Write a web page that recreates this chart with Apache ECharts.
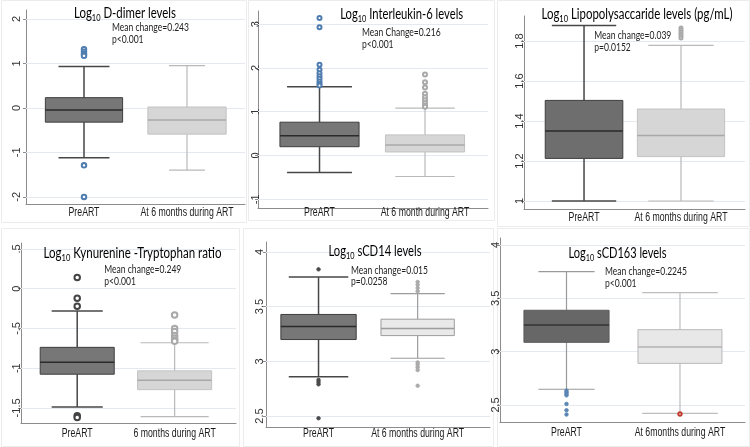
<!DOCTYPE html>
<html><head><meta charset="utf-8">
<script src="https://cdn.jsdelivr.net/npm/echarts@6/dist/echarts.min.js"></script>
<style>html,body{margin:0;padding:0;background:#fff}#c{width:750px;height:447px}</style>
</head><body><div id="c"></div>
<script>
// ---------------- data ----------------
// box stats: [min whisker, Q1, median, Q3, max whisker]
const dDimerPre = [-1.12, -0.32, -0.05, 0.23, 0.93];
const dDimerPost = [-1.40, -0.59, -0.27, 0.02, 0.95];
const dDimerPreOut = [1.32, 1.26, 1.21, 1.17, -1.29, -2.0];
const dDimerPostOut = [];
const dDimerTicks = [-2, -1, 0, 1, 2];

const il6Pre = [-0.39, 0.20, 0.45, 0.76, 1.57];
const il6Post = [-0.48, 0.08, 0.24, 0.47, 1.08];
const il6PreOut = [3.14, 2.93, 2.07, 1.96, 1.88, 1.81, 1.75, 1.69, 1.64, 1.60];
const il6PostOut = [1.85, 1.67, 1.55, 1.41, 1.33, 1.26, 1.20, 1.14, 1.11];
const il6Ticks = [-1, 0, 1, 2, 3];

const lpsPre = [1.0, 1.213, 1.35, 1.503, 1.877];
const lpsPost = [1.0, 1.222, 1.327, 1.46, 1.778];
const lpsPreOut = [];
const lpsPostOut = [1.865, 1.855, 1.845, 1.835, 1.825, 1.815];
const lpsTicks = [1, 1.2, 1.4, 1.6, 1.8];

const ktPre = [-1.49, -1.076, -0.924, -0.738, -0.28];
const ktPost = [-1.61, -1.27, -1.152, -1.034, -0.68];
const ktPreOut = [0.14, -0.12, -0.22, -1.60, -1.62];
const ktPostOut = [-0.33, -0.50, -0.54, -0.59, -0.62, -0.645, -0.66];
const ktTicks = [-1.5, -1, -0.5, 0, 0.5];

const cd14Pre = [2.859, 3.199, 3.318, 3.428, 3.77];
const cd14Post = [3.028, 3.235, 3.30, 3.385, 3.618];
const cd14PreOut = [3.84, 2.83, 2.81, 2.79, 2.48];
const cd14PostOut = [3.725, 3.70, 3.67, 3.64, 2.99, 2.97, 2.945, 2.92, 2.777];
const cd14Ticks = [2.5, 3, 3.5, 4];

const cd163Pre = [2.647, 3.0875, 3.25, 3.388, 3.75];
const cd163Post = [2.42, 2.89, 3.044, 3.206, 3.553];
const cd163PreOut = [2.635, 2.62, 2.605, 2.59, 2.51, 2.45, 2.41];
const cd163PostOut = [2.415];
const cd163Ticks = [2.5, 3, 3.5, 4];

const labelsA = ['PreART', 'At 6 months during ART'];
const labelsB = ['PreART', 'At 6 month during ART'];
const labelsC = ['PreART', '6 months during ART'];
const labelsD = ['PreART', 'At 6months during ART'];

const titles = ['D-dimer levels', 'Interleukin-6 levels', 'Lipopolysaccaride levels (pg/mL)',
  'Kynurenine -Tryptophan ratio', 'sCD14 levels', 'sCD163 levels'];
const notes = [['Mean change=0.243', 'p<0.001'], ['Mean Change=0.216', 'p<0.001'],
  ['Mean change=0.039', 'p=0.0152'], ['Mean change=0.249', 'p<0.001'],
  ['Mean change=0.015', 'p=0.0258'], ['Mean change=0.2245', 'p<0.001']];

// ---------------- styles / layout ----------------
const DARK = {fill: '#777777', border: '#3e3e3e', median: '#2a2a2a', line: '#474747', lw: 1.5};
const LIGHT = {fill: '#d6d6d6', border: '#c2c2c2', median: '#a8a8a8', line: '#b9b9b9', lw: 1.2};
const SANS = "'Liberation Sans',Arial,sans-serif";
const HUMAN = "Lato,'Open Sans',sans-serif";

// t: [title centre x, title cap centre y, title width]; n: [note left, note block middle y]; xm: label offset
const panels = [
  {pre: dDimerPre, post: dDimerPost, preOut: dDimerPreOut, postOut: dDimerPostOut, ticks: dDimerTicks, labels: labelsA,
   grid: {left: 26, top: 10, width: 219, height: 194}, y: [-2.16, 2.2], x: [0.437, 2.563], lm: 3.5, xm: 9,
   bw: [0.75, 0.76], cap: [0.66, 0.46], st: [DARK, LIGHT],
   o: [{sym: 'emptyCircle', c: '#4f7db0', s: 4.5}, {sym: 'emptyCircle', c: '#aaa', s: 4.5}],
   t: [125, 12.3, 102], n: [112, 33.7]},
  {pre: il6Pre, post: il6Post, preOut: il6PreOut, postOut: il6PostOut, ticks: il6Ticks, labels: labelsB,
   grid: {left: 258, top: 11, width: 230, height: 197}, y: [-1.2, 3.3], x: [0.417, 2.597], lm: -3, xm: 5,
   bw: [0.75, 0.75], cap: [0.82, 0.75], st: [DARK, LIGHT],
   o: [{sym: 'emptyCircle', c: '#4f7db0', s: 4}, {sym: 'emptyCircle', c: '#a9a9a9', s: 4}],
   t: [401.7, 14, 123], n: [362, 38.8]},
  {pre: lpsPre, post: lpsPost, preOut: lpsPreOut, postOut: lpsPostOut, ticks: lpsTicks, labels: labelsA,
   grid: {left: 524, top: 16, width: 221, height: 193}, y: [0.96, 1.925], x: [0.381, 2.66], lm: -1.5, xm: 9,
   bw: [0.80, 0.90], cap: [0.83, 0.75], st: [Object.assign({}, DARK, {fill: '#6e6e6e'}), LIGHT],
   o: [{sym: 'emptyCircle', c: '#555', s: 4}, {sym: 'emptyCircle', c: '#a9a9a9', s: 3}],
   t: [637, 14, 191], n: [594.3, 41.3]},
  {pre: ktPre, post: ktPost, preOut: ktPreOut, postOut: ktPostOut, ticks: ktTicks, labels: labelsC,
   grid: {left: 21, top: 243, width: 215, height: 180}, y: [-1.69, 0.575], x: [0.423, 2.63], lm: -1.5, xm: 11,
   bw: [0.76, 0.76], cap: [0.69, 0.92], st: [DARK, LIGHT],
   o: [{sym: 'emptyCircle', c: '#444', s: 5.5}, {sym: 'emptyCircle', c: '#a9a9a9', s: 5.5}],
   t: [132.5, 253, 178], n: [104.3, 275.2]},
  {pre: cd14Pre, post: cd14Post, preOut: cd14PreOut, postOut: cd14PostOut, ticks: cd14Ticks, labels: labelsA,
   grid: {left: 266, top: 242, width: 224, height: 185}, y: [2.40, 4.09], x: [0.47, 2.73], lm: 1, xm: 7,
   bw: [0.76, 0.74], cap: [0.79, 0.74],
   st: [DARK, {fill: '#e9e9e9', border: '#9c9c9c', median: '#9c9c9c', line: '#9c9c9c', lw: 1.2}],
   o: [{sym: 'circle', c: '#4a4a4a', s: 3.5}, {sym: 'circle', c: '#aaaaaa', s: 3.5}],
   t: [375, 251, 93], n: [351, 276]},
  {pre: cd163Pre, post: cd163Post, preOut: cd163PreOut, postOut: cd163PostOut, ticks: cd163Ticks, labels: labelsD,
   grid: {left: 500, top: 238, width: 245, height: 184}, y: [2.34, 4.066], x: [0.414, 2.573], lm: -1.5, xm: 11,
   bw: [0.75, 0.74], cap: [0.66, 0.9],
   st: [{fill: '#676767', border: '#5a5a5a', median: '#333333', line: '#9a9a9a', lw: 1.2},
        {fill: '#e8e8e8', border: '#b8b8b8', median: '#b3b3b3', line: '#bdbdbd', lw: 1.2}],
   o: [{sym: 'circle', c: '#5a86b4', s: 3.5}, {sym: 'emptyCircle', c: '#c0392b', s: 3.5}],
   t: [617.5, 253, 98], n: [605, 277.5]}
];
const NOTE_W = 77;      // width of "Mean change=0.243"
const XLABEL_W = 93;    // width of "At 6 months during ART"

function stataFmt(v) { return String(v).replace(/^(-?)0\./, '$1.'); }

function makeRenderer(p) {
  return function (params, api) {
    const i = params.dataIndex;
    const st = p.st[i];
    const x = api.value(0);
    const pMin = api.coord([x, api.value(1)]);
    const pQ1 = api.coord([x, api.value(2)]);
    const pMed = api.coord([x, api.value(3)]);
    const pQ3 = api.coord([x, api.value(4)]);
    const pMax = api.coord([x, api.value(5)]);
    const hw = api.size([p.bw[i], 0])[0] / 2;
    const cw = hw * p.cap[i];
    const cx = pMed[0];
    const ls = {stroke: st.line, lineWidth: st.lw};
    return {type: 'group', children: [
      {type: 'line', shape: {x1: cx, y1: pMax[1], x2: cx, y2: pQ3[1]}, style: ls},
      {type: 'line', shape: {x1: cx, y1: pQ1[1], x2: cx, y2: pMin[1]}, style: ls},
      {type: 'line', shape: {x1: cx - cw, y1: pMax[1], x2: cx + cw, y2: pMax[1]}, style: ls},
      {type: 'line', shape: {x1: cx - cw, y1: pMin[1], x2: cx + cw, y2: pMin[1]}, style: ls},
      {type: 'rect', shape: {x: cx - hw, y: pQ3[1], width: 2 * hw, height: pQ1[1] - pQ3[1]},
       style: {fill: st.fill, stroke: st.border, lineWidth: 1}},
      {type: 'line', shape: {x1: cx - hw, y1: pMed[1], x2: cx + hw, y2: pMed[1]},
       style: {stroke: st.median, lineWidth: 1.5}}
    ]};
  };
}

const grids = [], xAxes = [], yAxes = [], series = [];
panels.forEach((p, i) => {
  grids.push(Object.assign({containLabel: false}, p.grid));
  xAxes.push({
    gridIndex: i, type: 'value', min: p.x[0], max: p.x[1],
    axisLine: {show: true, onZero: false, lineStyle: {color: '#8c8c8c', width: 1}},
    axisTick: {show: false}, splitLine: {show: false}, axisLabel: {show: false}
  });
  yAxes.push({
    gridIndex: i, type: 'value', min: p.y[0], max: p.y[1],
    axisLine: {show: true, onZero: false, lineStyle: {color: '#8c8c8c', width: 1}},
    axisTick: {show: true, length: 3, customValues: p.ticks, lineStyle: {color: '#8c8c8c'}},
    axisLabel: {customValues: p.ticks, rotate: 90, margin: p.lm, fontSize: 11, color: '#333',
      fontFamily: SANS, formatter: stataFmt},
    splitLine: {show: false}
  });
  series.push({
    type: 'custom', xAxisIndex: i, yAxisIndex: i, z: 2,
    renderItem: makeRenderer(p),
    encode: {x: 0, y: [1, 2, 3, 4, 5]},
    data: [[1].concat(p.pre), [2].concat(p.post)],
    markLine: {
      silent: true, symbol: ['none', 'none'], label: {show: false}, z: 1,
      lineStyle: {color: '#e3e9ee', width: 1, type: 'solid'},
      emphasis: {disabled: true},
      data: p.ticks.map(t => ({yAxis: t}))
    }
  });
  [p.preOut, p.postOut].forEach((arr, k) => {
    series.push({
      type: 'scatter', xAxisIndex: i, yAxisIndex: i, z: 3, silent: true,
      symbol: p.o[k].sym, symbolSize: p.o[k].s,
      itemStyle: {color: p.o[k].c, borderColor: p.o[k].c, borderWidth: 0.9, opacity: 1},
      data: arr.map(v => [k + 1, v])
    });
  });
});

const frames = [[1, 0, 245, 222], [248, 0, 246, 220], [497, 0, 252, 226],
  [1, 228, 238, 218], [243, 228, 250, 218], [497, 228, 252, 218]];

const chart = echarts.init(document.getElementById('c'), null, {renderer: 'canvas'});
chart.setOption({
  animation: false,
  backgroundColor: '#fff',
  grid: grids, xAxis: xAxes, yAxis: yAxes, series: series
});

// text measurement to condense humanist / narrow text to the reference widths
const mctx = document.createElement('canvas').getContext('2d');
function tw(text, size, fam) { mctx.font = size + 'px ' + fam; return mctx.measureText(text).width; }
const TS = 14.5, SS = 9.5, NS = 11, XS = 12.5;
const noteScale = NOTE_W / tw('Mean change=0.243', NS, HUMAN);
const xScale = XLABEL_W / tw('At 6 months during ART', XS, SANS);

const gfx = frames.map(f => ({type: 'rect', silent: true, z: -10,
  shape: {x: f[0] + 0.5, y: f[1] + 0.5, width: f[2], height: f[3]},
  style: {fill: 'none', stroke: '#ececec', lineWidth: 1}}));
panels.forEach((p, i) => {
  [1, 2].forEach(k => {
    const pt = chart.convertToPixel({xAxisIndex: i, yAxisIndex: i}, [k, p.y[0]]);
    gfx.push({type: 'text', silent: true, x: pt[0], y: pt[1] + p.xm, scaleX: xScale, z: 5,
      style: {text: p.labels[k - 1], fontSize: XS, fontFamily: SANS, fill: '#1a1a1a',
        align: 'center', verticalAlign: 'middle'}});
  });
  const full = tw('Log', TS, HUMAN) + tw('10', SS, HUMAN) + tw(' ' + titles[i], TS, HUMAN);
  gfx.push({type: 'text', silent: true, x: p.t[0], y: p.t[1] + 0.8, scaleX: p.t[2] / full, z: 5,
    style: {text: '{n|Log}{s|10}{n| ' + titles[i] + '}', align: 'center', verticalAlign: 'middle',
      rich: {
        n: {fontSize: TS, fontFamily: HUMAN, fill: '#000', lineHeight: 19},
        s: {fontSize: SS, fontFamily: HUMAN, fill: '#000', lineHeight: 11, verticalAlign: 'bottom'}
      }}});
  gfx.push({type: 'text', silent: true, x: p.n[0], y: p.n[1], scaleX: noteScale, z: 5,
    style: {text: notes[i].join('\n'), fontSize: NS, fontFamily: HUMAN, fill: '#222',
      lineHeight: 11.7, align: 'left', verticalAlign: 'middle'}});
});
chart.setOption({graphic: gfx});
</script></body></html>
